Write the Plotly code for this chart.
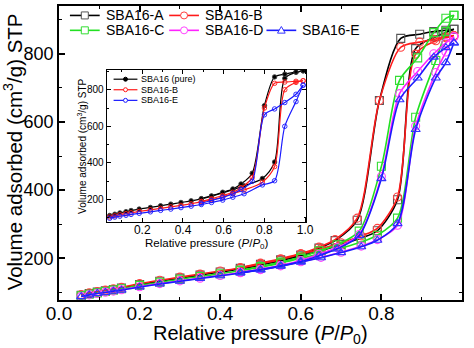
import plotly.graph_objects as go

# ---------------- main panel data (N2 isotherms) ----------------
P_ADS = [0.055, 0.075, 0.095, 0.115, 0.135, 0.155, 0.20, 0.25, 0.30, 0.35,
         0.40, 0.45, 0.50, 0.55, 0.60, 0.65, 0.70, 0.75, 0.79, 0.84, 0.885,
         0.935, 0.96, 0.98]
P_DES_AB = [0.98, 0.96, 0.93, 0.895, 0.848, 0.795, 0.74, 0.685, 0.645, 0.60,
            0.55, 0.50, 0.45]
P_DES_CDE = [0.98, 0.96, 0.93, 0.89, 0.845, 0.80, 0.745, 0.69, 0.645, 0.60,
             0.55, 0.50, 0.45]

A_ADS = [92, 97, 101, 105, 109, 113, 123, 133, 142, 151, 160, 169, 180, 193,
         207, 223, 241, 260, 281, 372, 815, 850, 862, 872]
B_ADS = [94, 99, 103, 107, 111, 115, 126, 136, 145, 154, 163, 172, 184, 197,
         212, 228, 246, 266, 288, 380, 799, 838, 847, 853]
C_ADS = [90, 95, 99, 103, 107, 111, 121, 130, 139, 147, 155, 164, 174, 186,
         200, 214, 230, 248, 268, 318, 614, 780, 865, 913]
D_ADS = [88, 93, 97, 101, 104, 108, 117, 126, 134, 142, 150, 158, 167, 178,
         190, 203, 218, 236, 255, 297, 588, 745, 805, 850]
E_ADS = [88, 93, 97, 100, 104, 107, 116, 125, 133, 141, 149, 157, 166, 177,
         189, 202, 217, 234, 253, 302, 578, 729, 774, 832]

A_DES = [872, 869, 865, 857, 845, 663, 312, 252, 230, 210, 196, 183, 171]
B_DES = [853, 850, 842, 834, 819, 663, 318, 255, 233, 214, 199, 186, 173]
C_DES = [913, 904, 862, 788, 722, 470, 280, 240, 222, 204, 189, 176, 165]
D_DES = [850, 832, 800, 748, 683, 440, 270, 232, 212, 194, 180, 168, 159]
E_DES = [832, 818, 790, 729, 665, 434, 267, 228, 208, 191, 178, 167, 158]

NAMES = ["SBA16-A", "SBA16-B", "SBA16-C", "SBA16-D", "SBA16-E"]
COLORS = ["#000000", "#ff1a1a", "#22e022", "#ff22ff", "#1a1aff"]
MARKER_EDGE = ["#555555", "#ff4040", "#33dd33", "#ff44ff", "#3333ff"]
SYMBOLS = ["square-open", "circle-open", "square-open", "circle-open",
           "triangle-up-open"]

# ---------------- inset data ----------------
P_IN_ADS = [0.04, 0.065, 0.09, 0.12, 0.145, 0.185, 0.24, 0.29, 0.34, 0.39,
            0.44, 0.49, 0.54, 0.595, 0.645, 0.70, 0.79, 0.85, 0.90, 0.955,
            0.99]
P_IN_DES = [0.99, 0.955, 0.90, 0.85, 0.80, 0.74, 0.685, 0.645, 0.595, 0.54,
            0.49]
PURE_ADS = [113, 120, 127, 134, 140, 148, 157, 166, 175, 184, 193, 204, 218,
            236, 254, 275, 315, 405, 862, 895, 903]
PURE_DES = [903, 897, 885, 870, 713, 344, 285, 258, 240, 220, 205]
INB_ADS = [105, 111, 117, 123, 128, 135, 144, 152, 160, 168, 177, 187, 199,
           214, 232, 252, 295, 380, 800, 840, 849]
INB_DES = [849, 846, 842, 835, 700, 320, 265, 240, 222, 204, 190]
INE_ADS = [98, 104, 109, 114, 119, 125, 133, 141, 148, 156, 164, 173, 184,
           197, 213, 232, 280, 303, 600, 735, 825]
INE_DES = [825, 775, 730, 695, 663, 300, 255, 232, 212, 195, 180]

IN_NAMES = ["SBA16 (pure)", "SBA16-B", "SBA16-E"]
IN_COLORS = ["#000000", "#ff1a1a", "#1a1aff"]
IN_SYMBOLS = ["circle", "circle-open", "circle-open"]

X_TITLE = "Relative pressure (<i>P</i>/<i>P</i><sub>0</sub>)"
Y_TITLE = "Volume adsorbed (cm<sup>3</sup>/g) STP"

FONT = "Arial, Liberation Sans, sans-serif"
W, H = 474, 348
ML, MR, MT, MB = 59, 9, 4, 48
PW, PH = W - ML - MR, H - MT - MB


def px_x(px):
    return (px - ML) / PW


def px_y(py):
    return (H - MB - py) / PH


fig = go.Figure()

main_sets = [
    (A_ADS, P_DES_AB, A_DES),
    (B_ADS, P_DES_AB, B_DES),
    (C_ADS, P_DES_CDE, C_DES),
    (D_ADS, P_DES_CDE, D_DES),
    (E_ADS, P_DES_CDE, E_DES),
]
for i, (ads, pdes, des) in enumerate(main_sets):
    for xs, ys in ((P_ADS, ads), (pdes, des)):
        fig.add_trace(go.Scatter(
            x=xs, y=ys, mode="lines+markers", name=NAMES[i],
            line=dict(color=COLORS[i], width=1.6, shape="spline",
                      smoothing=0.8),
            marker=dict(symbol=SYMBOLS[i], size=8, color=MARKER_EDGE[i],
                        line=dict(width=1.1)),
            xaxis="x", yaxis="y", showlegend=False, cliponaxis=False))

inset_sets = [
    (PURE_ADS, PURE_DES),
    (INB_ADS, INB_DES),
    (INE_ADS, INE_DES),
]
for i, (ads, des) in enumerate(inset_sets):
    for xs, ys in ((P_IN_ADS, ads), (P_IN_DES, des)):
        fig.add_trace(go.Scatter(
            x=xs, y=ys, mode="lines+markers", name=IN_NAMES[i],
            line=dict(color=IN_COLORS[i], width=1.2, shape="spline",
                      smoothing=0.8),
            marker=dict(symbol=IN_SYMBOLS[i], size=4.5, color=IN_COLORS[i],
                        line=dict(width=0.9)),
            xaxis="x2", yaxis="y2", showlegend=False))

axis_common = dict(showline=True, linecolor="black", mirror="ticks",
                   ticks="inside", showgrid=False, zeroline=False,
                   tickcolor="black")

fig.update_layout(
    width=W, height=H, margin=dict(l=ML, r=MR, t=MT, b=MB),
    paper_bgcolor="white", plot_bgcolor="white",
    font=dict(family=FONT, color="black"),
    showlegend=False,
    xaxis=dict(**axis_common, range=[0, 1], tick0=0, dtick=0.2,
               tickformat=".1f", ticklen=6, tickwidth=1.5, linewidth=1.6,
               ticklabelstandoff=-5,
               minor=dict(dtick=0.1, ticks="inside", ticklen=3.5,
                          tickwidth=1.2, tickcolor="black"),
               tickfont=dict(size=19)),
    yaxis=dict(**axis_common, range=[78, 940], tick0=0, dtick=200,
               ticklen=6, tickwidth=1.5, linewidth=1.6,
               minor=dict(dtick=100, ticks="inside", ticklen=3.5,
                          tickwidth=1.2, tickcolor="black"),
               tickfont=dict(size=18)),
    xaxis2=dict(**axis_common, domain=[px_x(107), px_x(308)], anchor="y2",
                range=[0.025, 1.005], tick0=0, dtick=0.2, tickformat=".1f",
                ticklen=4, tickwidth=1, linewidth=1, ticklabelstandoff=-3,
                minor=dict(dtick=0.1, ticks="inside", ticklen=2,
                           tickwidth=0.8, tickcolor="black"),
                tickfont=dict(size=12)),
    yaxis2=dict(**axis_common, domain=[px_y(221), px_y(68)], anchor="x2",
                range=[80, 910], tick0=0, dtick=200,
                ticklen=4, tickwidth=1, linewidth=1,
                minor=dict(dtick=100, ticks="inside", ticklen=2,
                           tickwidth=0.8, tickcolor="black"),
                tickfont=dict(size=10)),
)

# ---------------- axis titles and hand-placed legends ----------------
shapes, annots = [], []


def title_text(text, cx, cy, size, angle=0):
    annots.append(dict(text=text, xref="paper", yref="paper",
                       x=px_x(cx), y=px_y(cy), xanchor="center",
                       yanchor="middle", textangle=angle, showarrow=False,
                       font=dict(size=size, family=FONT, color="black")))


title_text(X_TITLE, 262, 335, 20)
title_text(Y_TITLE, 13, 151, 20.5, -90)
title_text(X_TITLE, 208, 243.5, 11.5)
title_text(Y_TITLE, 82, 145, 10, -90)


def marker_shape(symbol, cx, cy, r, color, fill="white", lw=1.0):
    base = dict(xref="paper", yref="paper", xsizemode="pixel",
                ysizemode="pixel", xanchor=px_x(cx), yanchor=px_y(cy),
                line=dict(color=color, width=lw), fillcolor=fill, layer="above")
    if symbol.startswith("square"):
        return dict(type="rect", x0=-r, x1=r, y0=-r, y1=r, **base)
    if symbol.startswith("triangle"):
        return dict(type="path",
                    path=f"M{-r * 1.1},{-r * 0.8} L{r * 1.1},{-r * 0.8} L0,{r * 1.1} Z",
                    **base)
    return dict(type="circle", x0=-r, x1=r, y0=-r, y1=r, **base)


def legend_entry(name, color, edge, symbol, x0, cy, length, r, fsize, tgap,
                 fill="white", lw=1.6):
    shapes.append(dict(type="line", xref="paper", yref="paper",
                       x0=px_x(x0), x1=px_x(x0 + length),
                       y0=px_y(cy), y1=px_y(cy),
                       line=dict(color=color, width=lw), layer="above"))
    shapes.append(marker_shape(symbol, x0 + length / 2, cy, r, edge, fill))
    annots.append(dict(text=name, xref="paper", yref="paper",
                       x=px_x(x0 + length + tgap), y=px_y(cy),
                       xanchor="left", yanchor="middle", showarrow=False,
                       font=dict(size=fsize, family=FONT, color="black")))


main_slots = [(70, 13.5), (170, 13.5), (70, 28.5), (170, 28.5), (268, 28.5)]
for i, (lx, ly) in enumerate(main_slots):
    legend_entry(NAMES[i], COLORS[i], MARKER_EDGE[i], SYMBOLS[i], lx, ly,
                 30, 3.5, 14, 4)

inset_rows = [77.7, 88.3, 99.0]
for i, ly in enumerate(inset_rows):
    fill = IN_COLORS[i] if IN_SYMBOLS[i] == "circle" else "white"
    legend_entry(IN_NAMES[i], IN_COLORS[i], IN_COLORS[i], IN_SYMBOLS[i], 114,
                 ly, 24, 2, 9, 2, fill=fill, lw=1.2)

fig.update_layout(shapes=shapes, annotations=annots)

fig.write_html("out.html")
